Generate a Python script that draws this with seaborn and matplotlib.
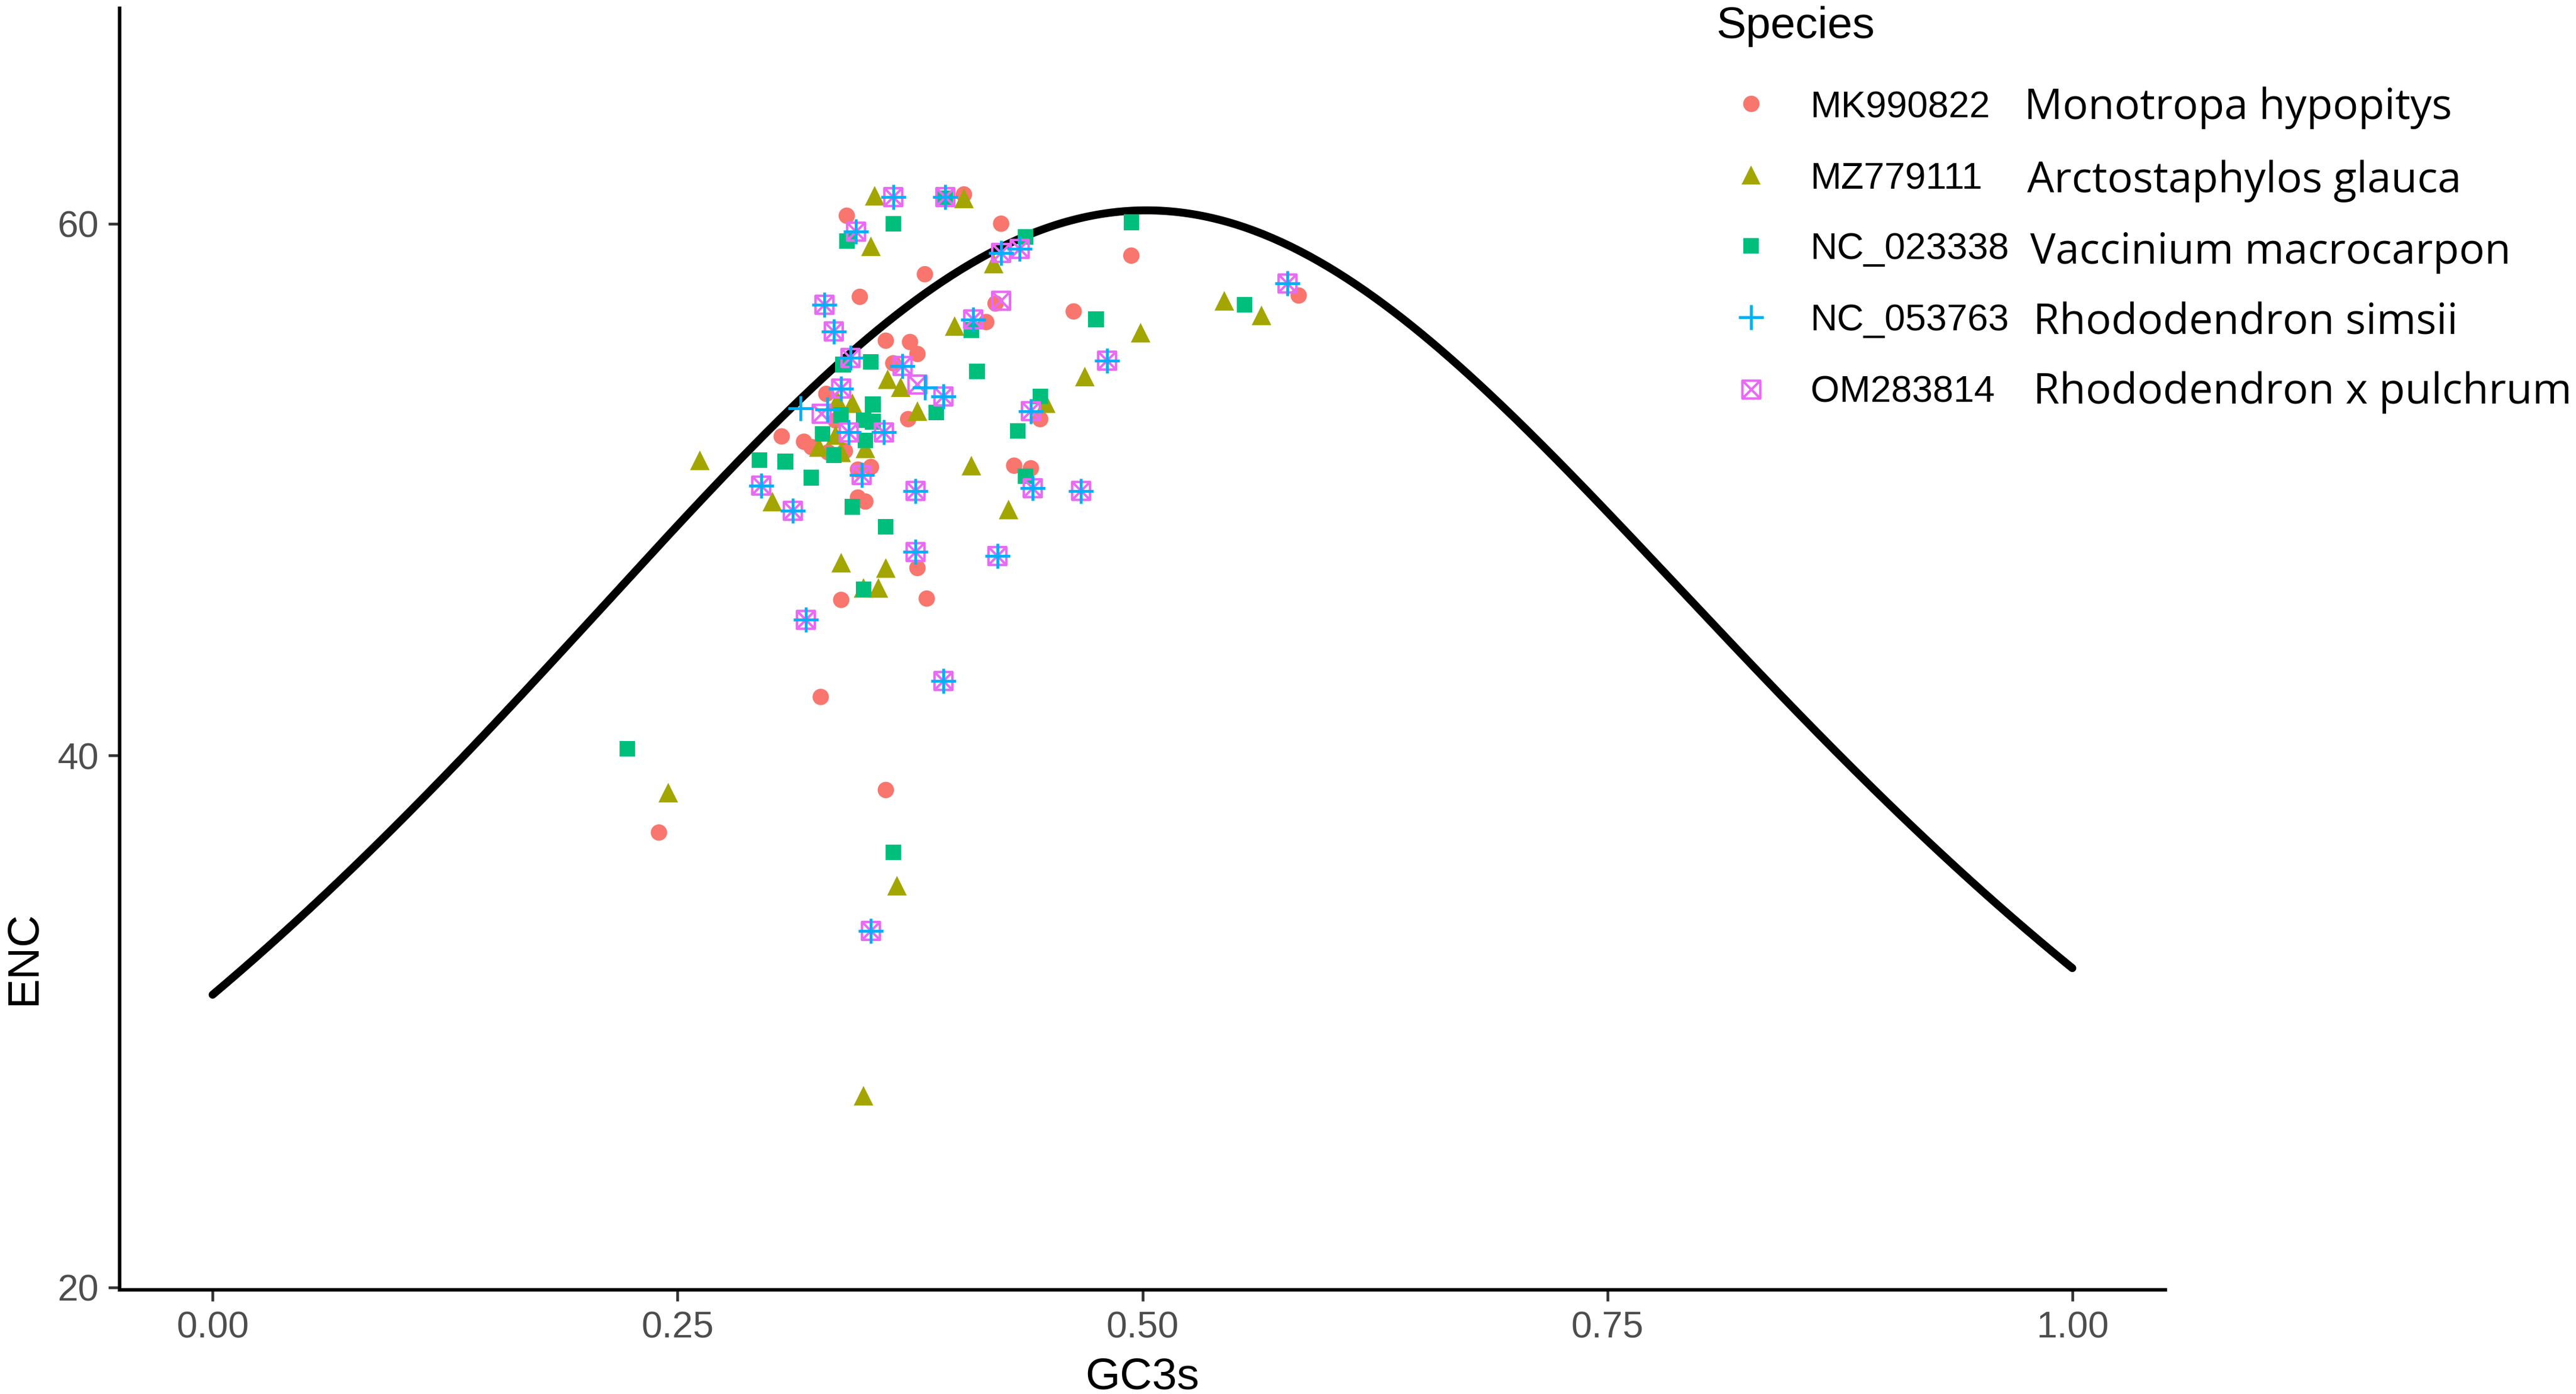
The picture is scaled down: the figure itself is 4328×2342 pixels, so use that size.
import numpy as np
import pandas as pd
import matplotlib
matplotlib.use("Agg")
import matplotlib.pyplot as plt
from matplotlib.path import Path
from matplotlib.lines import Line2D
import seaborn as sns

# ---------------- data ----------------
accessions = ["MK990822", "MZ779111", "NC_023338", "NC_053763", "OM283814"]
species_names = ["Monotropa hypopitys", "Arctostaphylos glauca", "Vaccinium macrocarpon",
                 "Rhododendron simsii", "Rhododendron x pulchrum"]
palette = ["#F8766D", "#A3A500", "#00BF7D", "#00B0F6", "#E76BF3"]

mk990822_gc3s = [0.341, 0.424, 0.404, 0.383, 0.348, 0.494, 0.584, 0.463, 0.421, 0.416,
                 0.362, 0.375, 0.379, 0.366, 0.330, 0.335, 0.374, 0.445, 0.306, 0.318,
                 0.322, 0.331, 0.340, 0.347, 0.354, 0.431, 0.440, 0.347, 0.351, 0.379,
                 0.338, 0.384, 0.327, 0.362, 0.240]
mk990822_enc = [60.3, 60.0, 61.1, 58.1, 57.25, 58.8, 57.3, 56.7, 57.0, 56.3,
                55.6, 55.55, 55.1, 54.75, 53.6, 52.6, 52.65, 52.65, 52.0, 51.8,
                51.6, 51.4, 51.45, 50.75, 50.85, 50.9, 50.8, 49.7, 49.55, 47.05,
                45.85, 45.9, 42.2, 38.7, 37.1]

mz779111_gc3s = [0.356, 0.404, 0.354, 0.420, 0.399, 0.544, 0.564, 0.499, 0.469, 0.363,
                 0.370, 0.344, 0.336, 0.379, 0.448, 0.335, 0.326, 0.338, 0.351, 0.262,
                 0.408, 0.301, 0.428, 0.338, 0.362, 0.350, 0.358, 0.245, 0.368, 0.350]
mz779111_enc = [61.05, 60.95, 59.15, 58.5, 56.15, 57.1, 56.55, 55.9, 54.25, 54.15,
                53.85, 53.25, 53.35, 52.95, 53.25, 52.05, 51.6, 51.4, 51.55, 51.1,
                50.9, 49.55, 49.25, 47.25, 47.05, 46.3, 46.3, 38.6, 35.1, 27.2]

nc023338_gc3s = [0.394, 0.366, 0.341, 0.437, 0.494, 0.408, 0.475, 0.555, 0.411, 0.339,
                 0.354, 0.445, 0.355, 0.350, 0.355, 0.351, 0.338, 0.328, 0.389, 0.433,
                 0.334, 0.294, 0.308, 0.322, 0.437, 0.344, 0.362, 0.350, 0.223, 0.366]
nc023338_enc = [60.95, 60.0, 59.35, 59.5, 60.05, 56.0, 56.4, 56.95, 54.45, 54.7,
                54.8, 53.5, 53.2, 52.6, 52.55, 51.85, 52.8, 52.1, 52.9, 52.2,
                51.3, 51.1, 51.05, 50.45, 50.5, 49.35, 48.6, 46.25, 40.25, 36.35]

nc053763_gc3s = [0.366, 0.394, 0.346, 0.424, 0.434, 0.329, 0.334, 0.409, 0.343, 0.371,
                 0.338, 0.393, 0.481, 0.440, 0.342, 0.361, 0.349, 0.295, 0.378, 0.441,
                 0.467, 0.312, 0.378, 0.422, 0.319, 0.393, 0.354, 0.578, 0.3305, 0.383,
                 0.316]
nc053763_enc = [61.0, 61.0, 59.7, 58.9, 59.05, 56.95, 55.95, 56.4, 54.95, 54.65,
                53.8, 53.5, 54.85, 52.95, 52.15, 52.15, 50.55, 50.15, 49.95, 50.05,
                49.95, 49.2, 47.65, 47.5, 45.1, 42.8, 33.4, 57.75, 53.0, 53.85,
                53.05]

om283814_gc3s = [0.366, 0.394, 0.346, 0.424, 0.434, 0.329, 0.334, 0.409, 0.343, 0.371,
                 0.338, 0.393, 0.481, 0.440, 0.342, 0.361, 0.349, 0.295, 0.378, 0.441,
                 0.467, 0.312, 0.378, 0.422, 0.319, 0.393, 0.354, 0.578, 0.3275, 0.379,
                 0.424]
om283814_enc = [61.0, 61.0, 59.7, 58.9, 59.05, 56.95, 55.95, 56.4, 54.95, 54.65,
                53.8, 53.5, 54.85, 52.95, 52.15, 52.15, 50.55, 50.15, 49.95, 50.05,
                49.95, 49.2, 47.65, 47.5, 45.1, 42.8, 33.4, 57.75, 52.85, 53.95,
                57.1]

x_ticks = [0.00, 0.25, 0.50, 0.75, 1.00]
x_tick_labels = ["0.00", "0.25", "0.50", "0.75", "1.00"]
y_ticks = [20, 40, 60]
y_tick_labels = ["20", "40", "60"]

# Wright (1990) expected ENC curve: ENC = 2 + s + 29 / (s^2 + (1 - s)^2)
curve_gc3s = np.linspace(0.0, 1.0, 401)
curve_enc = 2 + curve_gc3s + 29.0 / (curve_gc3s ** 2 + (1 - curve_gc3s) ** 2)

frames = []
for acc, xs, ys in zip(accessions,
                       [mk990822_gc3s, mz779111_gc3s, nc023338_gc3s, nc053763_gc3s, om283814_gc3s],
                       [mk990822_enc, mz779111_enc, nc023338_enc, nc053763_enc, om283814_enc]):
    frames.append(pd.DataFrame({"GC3s": xs, "ENC": ys, "Species": acc}))
df = pd.concat(frames, ignore_index=True)

# ---------------- figure ----------------
W, H, DPI = 4328, 2342, 300
sns.set_theme(style="ticks")
plt.rcParams["font.family"] = ["Liberation Sans", "DejaVu Sans"]

fig = plt.figure(figsize=(W / DPI, H / DPI), dpi=DPI)
ax_left, ax_right, ax_top, ax_bottom = 201, 3638, 14, 2167
ax = fig.add_axes([ax_left / W, 1 - ax_bottom / H, (ax_right - ax_left) / W, (ax_bottom - ax_top) / H])

sns.lineplot(x=curve_gc3s, y=curve_enc, color="black", linewidth=3.2, ax=ax,
             estimator=None, sort=False, zorder=1)

box_x = Path([(-1, -1), (1, -1), (1, 1), (-1, 1), (-1, -1), (-1, -1), (1, 1), (-1, 1), (1, -1)],
             [Path.MOVETO, Path.LINETO, Path.LINETO, Path.LINETO, Path.CLOSEPOLY,
              Path.MOVETO, Path.LINETO, Path.MOVETO, Path.LINETO])

styles = {
    "MK990822": dict(marker="o", s=6.6 ** 2, linewidth=0, edgecolor="none"),
    "MZ779111": dict(marker="^", s=7.9 ** 2, linewidth=0, edgecolor="none"),
    "NC_023338": dict(marker="s", s=6.3 ** 2, linewidth=0, edgecolor="none"),
    "OM283814": dict(marker=box_x, s=7.2 ** 2, linewidth=1.0, facecolor="none",
                     edgecolor="#E76BF3"),
    "NC_053763": dict(marker="+", s=10.0 ** 2, linewidth=1.15),
}
draw_order = ["MK990822", "MZ779111", "NC_023338", "OM283814", "NC_053763"]
for z, acc in enumerate(draw_order):
    sub = df[df["Species"] == acc]
    col = palette[accessions.index(acc)]
    sns.scatterplot(data=sub, x="GC3s", y="ENC", color=col, ax=ax, legend=False,
                    zorder=3 + z, **styles[acc])

ax.set_xlim(-0.05, 1.05)
ax.set_ylim(19.9, 68.1)
ax.set_xticks(x_ticks)
ax.set_xticklabels(x_tick_labels)
ax.set_yticks(y_ticks)
ax.set_yticklabels(y_tick_labels)
sns.despine(ax=ax)
for sp in ["left", "bottom"]:
    ax.spines[sp].set_linewidth(1.4)
    ax.spines[sp].set_color("black")
ax.tick_params(axis="both", length=4.6, width=1.1, color="#333333", pad=3.8,
               labelsize=15, labelcolor="#4D4D4D")

ax.set_xlabel("GC3s", fontsize=18, color="black")
ax.set_ylabel("ENC", fontsize=18, color="black")
axw, axh = ax_right - ax_left, ax_bottom - ax_top
ax.xaxis.label.set_verticalalignment("baseline")
ax.xaxis.set_label_coords(0.5, (ax_bottom - 2333) / axh)
ax.yaxis.label.set_verticalalignment("center")
ax.yaxis.set_label_coords((40 - ax_left) / axw, (ax_bottom - 1609) / axh)

# ---------------- legend (drawn in figure coordinates) ----------------
fig.text(2884 / W, 1 - 64 / H, "Species", fontsize=18, color="black",
         ha="left", va="baseline")
leg_marker_y = [174, 294, 413, 533, 654]
leg_acc_base = [197, 317, 435, 555, 675]
leg_name_base = [200, 323, 443, 561, 678]
leg_name_x = [3401, 3406, 3411, 3416, 3416]
leg_markers = [
    dict(marker="o", markersize=6.6, markerfacecolor=palette[0], markeredgewidth=0),
    dict(marker="^", markersize=7.9, markerfacecolor=palette[1], markeredgewidth=0),
    dict(marker="s", markersize=6.3, markerfacecolor=palette[2], markeredgewidth=0),
    dict(marker="+", markersize=10.0, markeredgecolor=palette[3], markeredgewidth=1.15),
    dict(marker=box_x, markersize=7.2, markerfacecolor="none", markeredgecolor=palette[4],
         markeredgewidth=1.0),
]
for i in range(5):
    fig.add_artist(Line2D([2942 / W], [1 - leg_marker_y[i] / H], linestyle="none",
                          transform=fig.transFigure, **leg_markers[i]))
    fig.text(3042 / W, 1 - leg_acc_base[i] / H, accessions[i], fontsize=15,
             color="black", ha="left", va="baseline")
    fig.text(leg_name_x[i] / W, 1 - leg_name_base[i] / H, species_names[i], fontsize=17.2,
             color="black", ha="left", va="baseline", family=["Open Sans", "DejaVu Sans"])

fig.savefig("out.png", dpi=DPI, facecolor="white")
